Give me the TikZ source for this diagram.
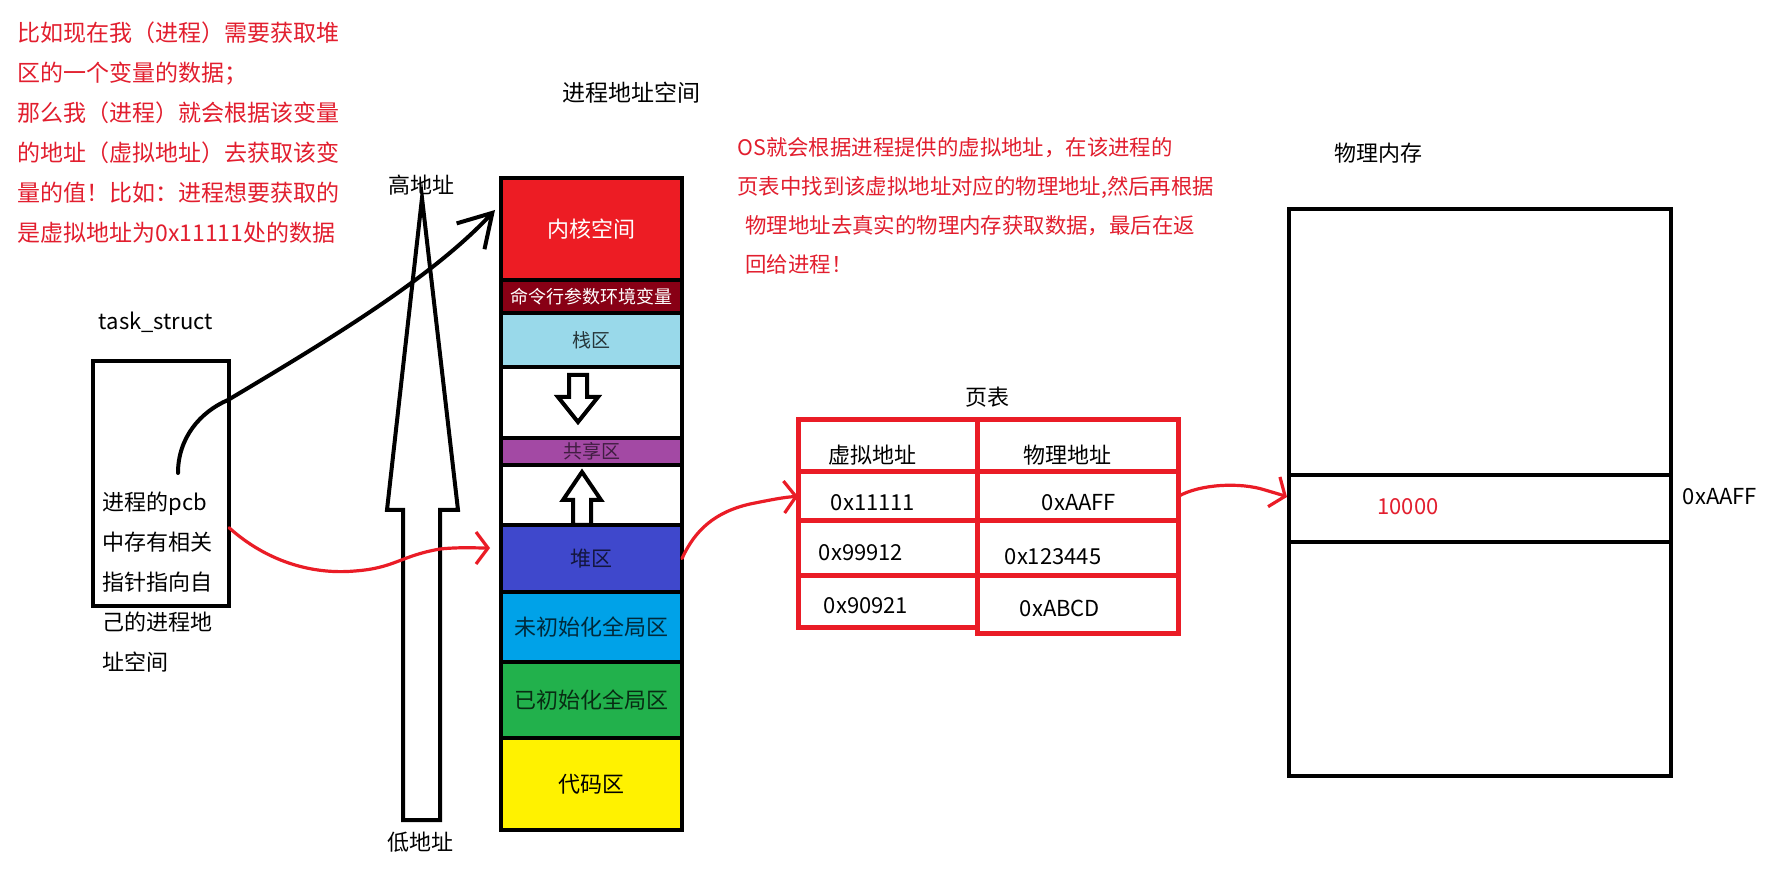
\documentclass[tikz,border=0pt]{standalone}
\usepackage{fontspec}
\setmainfont{Noto Sans CJK SC}
\usepackage{tikz}
\usetikzlibrary{arrows.meta, positioning, calc}
\definecolor{notered}{RGB}{226,30,46}
\definecolor{linered}{RGB}{234,28,38}
\definecolor{kernred}{RGB}{237,28,36}
\definecolor{argred}{RGB}{136,0,21}
\definecolor{stackblue}{RGB}{153,217,234}
\definecolor{sharepurple}{RGB}{163,73,164}
\definecolor{heapblue}{RGB}{63,72,204}
\definecolor{bssblue}{RGB}{0,162,232}
\definecolor{datagreen}{RGB}{34,177,76}
\definecolor{codeyellow}{RGB}{255,242,0}
\tikzset{%
	seg/.style={draw, line width=2pt, minimum width=90.5pt, inner sep=0pt,%
		outer sep=0pt, font=\fontsize{11}{13}\selectfont},
	hollow/.style={draw, line width=2pt, fill=white},
	ptr/.style={line width=2pt, line cap=round, -{Straight Barb[length=16pt, width=19pt]}},
	redptr/.style={draw=linered, line width=1.6pt, line cap=round,%
		-{Straight Barb[length=6pt, width=16pt]}},
	tabcell/.style={draw=linered, line width=2.5pt, inner sep=0pt, outer sep=0pt},
	memcell/.style={draw, line width=2pt, minimum width=191pt, inner sep=0pt,%
		outer sep=0pt, anchor=north west},
	txt/.style={inner sep=0pt, font=\fontsize{11}{13}\selectfont},
	note/.style={inner sep=0pt, anchor=north west, align=left, text=notered}
}
\begin{document}
\begin{tikzpicture}[x=0.5pt, y=-0.5pt]
	\useasboundingbox (0,0) rectangle (1768,871);
	\fill[white] (0,0) rectangle (1768,871);

	\node[note, font=\fontsize{11.5}{20}\selectfont] (ask) at (17,21)
		{比如现在我（进程）需要获取堆\\区的一个变量的数据；\\那么我（进程）就会根据该变量\\的地址（虚拟地址）去获取该变\\量的值！比如：进程想要获取的\\是虚拟地址为0x11111处的数据};
	\node[note, font=\fontsize{10.7}{19.5}\selectfont] (osnote) at (737,137)
		{OS就会根据进程提供的虚拟地址，在该进程的\\页表中找到该虚拟地址对应的物理地址,然后再根据\\\hspace*{4pt}物理地址去真实的物理内存获取数据，最后在返\\\hspace*{4pt}回给进程！};

	\node[txt] (tasklabel) at (156,322) {task\_struct};
	\node[draw, line width=2pt, minimum width=68pt, minimum height=122.5pt,%
		inner sep=0pt, outer sep=0pt] (pcb) at (161,483.5) {};
	\node[txt, anchor=north west, align=left, font=\fontsize{11}{20}\selectfont] (pcbtext)
		at (102,491.5) {进程的pcb\\中存有相关\\指针指向自\\己的进程地\\址空间};

	\draw[hollow] (422,198) -- (458,510) -- (440,510) -- (440,820) -- (403,820)
		-- (403,510) -- (387,510) -- cycle;
	\node[txt] (high) at (421,185) {高地址};
	\node[txt] (low) at (420,842) {低地址};

	\node[txt, font=\fontsize{11.5}{14}\selectfont] (vaspace) at (631,93) {进程地址空间};
	\node[seg, fill=kernred, text=white, minimum height=51pt, anchor=north west] (kernel)
		at (501,178) {内核空间};
	\node[seg, fill=argred, text=white, minimum height=16.5pt, below=0pt of kernel,%
		font=\fontsize{9}{10}\selectfont] (args) {命令行参数环境变量};
	\node[seg, fill=stackblue, text=black!75!stackblue, minimum height=27pt,%
		below=0pt of args, font=\fontsize{9.5}{11}\selectfont] (stack) {栈区};
	\node[seg, minimum height=35.5pt, below=0pt of stack] (gapdown) {};
	\node[seg, fill=sharepurple, text=black!60!sharepurple, minimum height=13.5pt,%
		below=0pt of gapdown, font=\fontsize{9.5}{10}\selectfont] (shared) {共享区};
	\node[seg, minimum height=30pt, below=0pt of shared] (gapup) {};
	\node[seg, fill=heapblue, text=black!70!heapblue, minimum height=33.5pt,%
		below=0pt of gapup, font=\fontsize{10.5}{12}\selectfont] (heap) {堆区};
	\node[seg, fill=bssblue, text=black!75!bssblue, minimum height=35pt,%
		below=0pt of heap] (bss) {未初始化全局区};
	\node[seg, fill=datagreen, text=black!75!datagreen, minimum height=38pt,%
		below=0pt of bss] (data) {已初始化全局区};
	\node[seg, fill=codeyellow, minimum height=46pt, below=0pt of data] (code) {代码区};

	\draw[hollow] (569,375) -- (587,375) -- (587,397) -- (598,397) -- (578,422)
		-- (558,397) -- (569,397) -- cycle;
	\draw[hollow] (573,525) -- (573,500) -- (563,500) -- (582,472) -- (601,500)
		-- (591,500) -- (591,525) -- cycle;

	\node[txt] (ptlabel) at (987,397) {页表};
	\node[tabcell, minimum width=89.5pt, minimum height=26pt, anchor=north west] (vhead)
		at (798,420) {};
	\node[tabcell, minimum width=89.5pt, minimum height=24.5pt, below=0pt of vhead] (vrow1) {};
	\node[tabcell, minimum width=89.5pt, minimum height=27.5pt, below=0pt of vrow1] (vrow2) {};
	\node[tabcell, minimum width=89.5pt, minimum height=25.5pt, below=0pt of vrow2] (vrow3) {};
	\node[tabcell, minimum width=100.5pt, minimum height=26pt, right=0pt of vhead] (phead) {};
	\node[tabcell, minimum width=100.5pt, minimum height=24.5pt, below=0pt of phead] (prow1) {};
	\node[tabcell, minimum width=100.5pt, minimum height=27.5pt, below=0pt of prow1] (prow2) {};
	\node[tabcell, minimum width=100.5pt, minimum height=28.5pt, below=0pt of prow2] (prow3) {};
	\node[txt] (vhtxt) at (872,455) {虚拟地址};
	\node[txt] (phtxt) at (1067,455) {物理地址};
	\node[txt] (v1txt) at (873,503) {0x11111};
	\node[txt] (p1txt) at (1079,503) {0xAAFF};
	\node[txt] (v2txt) at (861,553) {0x99912};
	\node[txt] (p2txt) at (1053,557) {0x123445};
	\node[txt] (v3txt) at (866,606) {0x90921};
	\node[txt] (p3txt) at (1060,608) {0xABCD};

	\node[txt] (memlabel) at (1378,153) {物理内存};
	\node[memcell, minimum height=283.5pt] (mem) at (1289,209) {};
	\node[memcell, minimum height=33.5pt] (cell) at (1289,475) {};
	\node[txt, text=notered] (value) at (1408,507) {10000};
	\node[txt] (celladdr) at (1720,497) {0xAAFF};

	\coordinate (pcbptr) at (178,473);
	\draw[ptr] (pcbptr) .. controls (178,438) and (200,412) .. (228,400)
		.. controls (320,345) and (430,280) .. ([xshift=-3pt, yshift=9.5pt]kernel.west);
	\draw[redptr] (pcb.-33) .. controls (265,560) and (310,575) .. (355,571)
		.. controls (395,568) and (400,556) .. (440,549)
		.. controls (460,547) and (475,548) .. ([xshift=-5.5pt, yshift=5.25pt]heap.west);
	\draw[redptr] (heap.east) .. controls (695,530) and (715,512) .. (750,504)
		.. controls (770,500) and (785,497) .. (vrow1.west);
	\draw[redptr] (prow1.east) .. controls (1200,484) and (1240,482) .. (1265,490)
		.. controls (1275,493) and (1282,495) .. ([xshift=-1pt, yshift=5.75pt]cell.west);
\end{tikzpicture}
\end{document}
